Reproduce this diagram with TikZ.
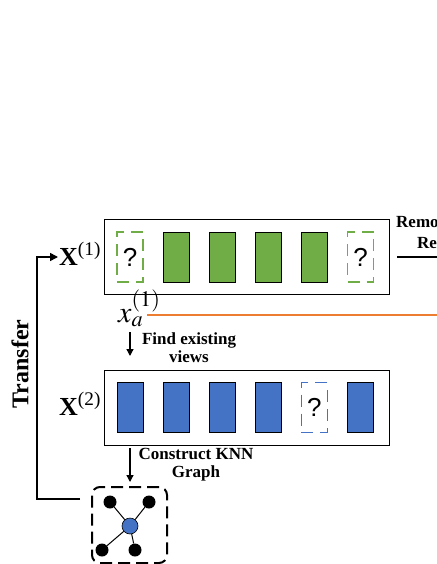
\documentclass[tikz,border=0pt]{standalone}
\usepackage{mathptmx}
\usepackage{fontspec}
\setmainfont{Liberation Serif}
\newfontfamily\qfont{Liberation Sans}
\usetikzlibrary{arrows.meta, positioning}

\definecolor{viewgreen}{HTML}{70AD47}
\definecolor{viewblue}{HTML}{4472C4}
\definecolor{anchororange}{HTML}{ED7D31}

\tikzset{
  panel/.style={draw, line width=1pt, minimum width=285pt, minimum height=75pt, inner sep=0pt},
  viewbar/.style={draw=black, line width=0.8pt, minimum width=26pt, minimum height=50pt, inner sep=0pt},
  missbar/.style={dash pattern=on 12pt off 7pt, line width=1.2pt, minimum width=26pt, minimum height=50pt, inner sep=0pt, font=\qfont\fontsize{26}{26}\selectfont},
  steplabel/.style={font=\bfseries\fontsize{17}{18}\selectfont, align=center, inner sep=0pt},
  flow/.style={line width=1.3pt, -{Triangle[length=7pt,width=7pt]}},
  dot/.style={circle, fill=black, minimum size=13pt, inner sep=0pt},
}

\begin{document}
\begin{tikzpicture}[x=1pt, y=-1pt]
  \useasboundingbox (0,0) rectangle (436,564);

  % view 1
  \node[panel] (panel1) at (246.5,256.5) {};
  \node[missbar, draw=viewgreen] (g0) at (130,257) {?};
  \foreach \i in {1,...,4}
    \node[viewbar, fill=viewgreen] (g\i) at ({130+46.1*\i},257) {};
  \node[missbar, draw=viewgreen] (g5) at (360.5,257) {?};
  \node[anchor=base west, inner sep=0pt] (lab1) at (59,265)
    {\fontsize{26}{26}\selectfont\textbf{X}\textsuperscript{(1)}};

  % view 2
  \node[panel] (panel2) at (246.5,407.5) {};
  \foreach \i in {0,1,2,3,5}
    \node[viewbar, fill=viewblue] (b\i) at ({130+46.1*\i},407.5) {};
  \node[missbar, draw=viewblue] (b4) at (314.4,407.5) {?};
  \node[anchor=base west, inner sep=0pt] (lab2) at (59,415)
    {\fontsize{26}{26}\selectfont\textbf{X}\textsuperscript{(2)}};

  % anchor sample
  \node[anchor=base west, inner sep=0pt] (xa) at (118,322)
    {\fontsize{30}{30}\selectfont$x_a^{(1)}$};
  \coordinate (ostart) at (147,315);
  \coordinate (oend) at (440,315);
  \draw[anchororange, line width=1.4pt] (ostart) -- (oend);

  % steps
  \coordinate (f1) at (130,332);
  \coordinate (f2) at (130,356);
  \draw[flow] (f1) -- (f2);
  \node[steplabel] (find) at (189,348) {Find existing\\views};
  \coordinate (c1) at (130,448);
  \coordinate (c2) at (130,482);
  \draw[flow] (c1) -- (c2);
  \node[steplabel] (knn) at (196,465) {Construct KNN\\Graph};

  % graph
  \node[draw, dash pattern=on 12pt off 6pt, line width=2pt, rounded corners=8pt,
        minimum width=75pt, minimum height=76pt] (gbox) at (129.5,525) {};
  \node[circle, draw, line width=0.6pt, fill=viewblue, minimum size=16pt, inner sep=0pt] (hub) at (130,526) {};
  \foreach \n/\x/\y in {nA/110/502, nB/149/502, nC/102/550, nD/135/550} {
    \node[dot] (\n) at (\x,\y) {};
    \draw[line width=1pt] (hub) -- (\n);
  }

  % transfer
  \coordinate (tstart) at (80,499);
  \coordinate (tcorner) at (37,499);
  \coordinate (tend) at (58,257);
  \draw[line width=1.5pt, -{Triangle[length=8pt,width=8pt]}] (tstart) -- (tcorner) |- (tend);
  \node[rotate=90, font=\bfseries\fontsize{24}{24}\selectfont] (tlab) at (20,364) {Transfer};

  % remove (cut off)
  \node[anchor=base west, inner sep=0pt, font=\bfseries\fontsize{17}{17}\selectfont] (rm1) at (396,227) {Remo};
  \node[anchor=base west, inner sep=0pt, font=\bfseries\fontsize{17}{17}\selectfont] (rm2) at (417,248) {Re};
  \coordinate (r1) at (397,257);
  \coordinate (r2) at (440,257);
  \draw[line width=2pt] (r1) -- (r2);
\end{tikzpicture}
\end{document}
